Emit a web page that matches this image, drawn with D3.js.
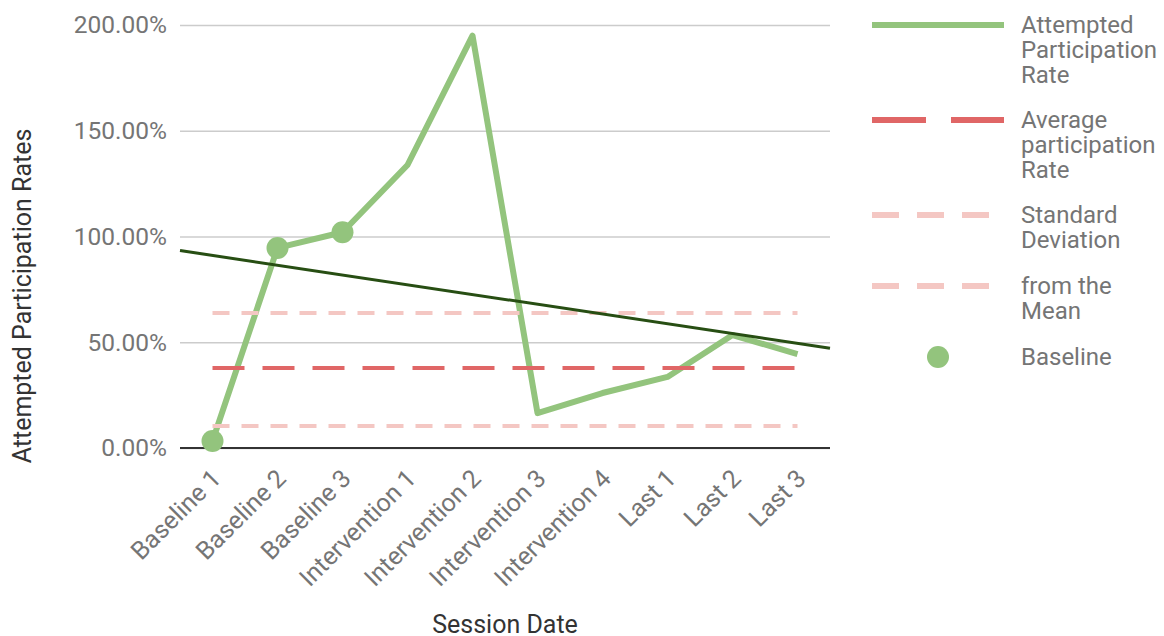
<!DOCTYPE html>
<html>
<head>
<meta charset="utf-8">
<script src="https://cdn.jsdelivr.net/npm/d3@7"></script>
<style>
  html, body { margin: 0; padding: 0; background: #fff; }
  svg { display: block; font-family: Roboto, "Noto Sans", sans-serif; }
</style>
</head>
<body>
<svg id="chart" width="1164" height="636"></svg>
<script>
// Session labels along the x axis
const sessions = ["Baseline 1", "Baseline 2", "Baseline 3", "Intervention 1", "Intervention 2",
                  "Intervention 3", "Intervention 4", "Last 1", "Last 2", "Last 3"];
// Attempted participation rate per session (%)
const participation = [3.3, 94.6, 102, 133.8, 195, 16.5, 26, 33.6, 53.4, 44.4];
// Reference levels (%)
const averageRate = 37.8;
const sdBounds = [10.4, 63.8];
// Y axis ticks (%)
const yTicks = [0, 50, 100, 150, 200];
// Legend entries
const legendItems = [
  { type: "solid",  lines: ["Attempted", "Participation", "Rate"] },
  { type: "avg",    lines: ["Average", "participation", "Rate"] },
  { type: "sd",     lines: ["Standard", "Deviation"] },
  { type: "sd",     lines: ["from the", "Mean"] },
  { type: "dot",    lines: ["Baseline"] }
];

const GREEN = "#93c47d", RED = "#e06666", PINK = "#f4c7c3", TREND = "#274e13";
const svg = d3.select("#chart");

const plot = { left: 180, right: 830, top: 25, bottom: 448 };

const x = d3.scaleBand().domain(sessions).range([plot.left, plot.right]).padding(0);
const cx = s => x(s) + x.bandwidth() / 2;
const y = d3.scaleLinear().domain([0, 200]).range([plot.bottom, plot.top]);

// Gridlines and y tick labels
const yAxis = d3.axisLeft(y).tickValues(yTicks)
  .tickSize(-(plot.right - plot.left))
  .tickPadding(13)
  .tickFormat(d => d3.format(".2f")(d) + "%");
const gy = svg.append("g").attr("transform", `translate(${plot.left},0)`).call(yAxis);
gy.select(".domain").remove();
gy.selectAll(".tick line").attr("stroke", "#cccccc").attr("stroke-width", 1.3);
gy.selectAll(".tick text").attr("fill", "#757575").attr("font-size", 24.5)
  .attr("font-family", "Roboto, sans-serif");

// X axis baseline and rotated labels
const xAxis = d3.axisBottom(x).tickSize(0).tickPadding(0);
const gx = svg.append("g").attr("transform", `translate(0,${plot.bottom})`).call(xAxis);
gx.select(".domain").remove();
gx.selectAll(".tick text")
  .attr("fill", "#757575").attr("font-size", 25)
  .attr("font-family", "Roboto, sans-serif")
  .attr("text-anchor", "end")
  .attr("dy", 0)
  .attr("transform", "translate(10,32) rotate(-45)");
svg.append("line")
  .attr("x1", plot.left).attr("x2", plot.right)
  .attr("y1", y(0)).attr("y2", y(0))
  .attr("stroke", "#333").attr("stroke-width", 2);

// Participation line
const line = d3.line().x((d, i) => cx(sessions[i])).y(d => y(d));
svg.append("path").datum(participation)
  .attr("d", line).attr("fill", "none")
  .attr("stroke", GREEN).attr("stroke-width", 6)
  .attr("stroke-linejoin", "round");

// Baseline session markers
svg.append("g").selectAll("circle")
  .data(participation.map((v, i) => ({ s: sessions[i], v })).filter(d => d.s.startsWith("Baseline")))
  .join("circle")
  .attr("cx", d => cx(d.s)).attr("cy", d => y(d.v)).attr("r", 11)
  .attr("fill", GREEN);

// Average and standard deviation reference lines
const x0 = cx(sessions[0]), x1 = cx(sessions[sessions.length - 1]);
sdBounds.forEach(v => {
  svg.append("line").attr("x1", x0).attr("x2", x1).attr("y1", y(v)).attr("y2", y(v))
    .attr("stroke", PINK).attr("stroke-width", 4).attr("stroke-dasharray", "17 12");
});
svg.append("line").attr("x1", x0).attr("x2", x1).attr("y1", y(averageRate)).attr("y2", y(averageRate))
  .attr("stroke", RED).attr("stroke-width", 4).attr("stroke-dasharray", "32 18");

// Linear trendline across the plot
const n = participation.length;
const meanX = d3.mean(participation, (d, i) => i);
const meanY = d3.mean(participation);
const slope = d3.sum(participation, (d, i) => (i - meanX) * (d - meanY)) /
              d3.sum(participation, (d, i) => (i - meanX) ** 2);
const trendAt = i => meanY + slope * (i - meanX);
const idxToX = i => cx(sessions[0]) + i * x.step();
svg.append("line")
  .attr("x1", idxToX(-0.5)).attr("y1", y(trendAt(-0.5)))
  .attr("x2", idxToX(n - 0.5)).attr("y2", y(trendAt(n - 0.5)))
  .attr("stroke", TREND).attr("stroke-width", 3);

// Axis titles
svg.append("text").attr("x", 505).attr("y", 633)
  .attr("text-anchor", "middle").attr("font-size", 25).attr("fill", "#333")
  .text("Session Date");
svg.append("text")
  .attr("transform", `translate(31,296) rotate(-90)`)
  .attr("text-anchor", "middle").attr("font-size", 25).attr("fill", "#333")
  .text("Attempted Participation Rates");

// Legend
const legend = svg.append("g");
const legendY = [25, 120, 215, 286, 357];
legendItems.forEach((item, k) => {
  const yy = legendY[k];
  const g = legend.append("g");
  if (item.type === "solid") {
    g.append("line").attr("x1", 872).attr("x2", 1004).attr("y1", yy).attr("y2", yy)
      .attr("stroke", GREEN).attr("stroke-width", 6);
  } else if (item.type === "avg") {
    g.append("line").attr("x1", 872).attr("x2", 1004).attr("y1", yy).attr("y2", yy)
      .attr("stroke", RED).attr("stroke-width", 6).attr("stroke-dasharray", "54 25");
  } else if (item.type === "sd") {
    g.append("line").attr("x1", 872).attr("x2", 990).attr("y1", yy).attr("y2", yy)
      .attr("stroke", PINK).attr("stroke-width", 6).attr("stroke-dasharray", "27 18");
  } else {
    g.append("circle").attr("cx", 938).attr("cy", yy).attr("r", 11).attr("fill", GREEN);
  }
  const t = g.append("text").attr("x", 1021).attr("y", yy + 8)
    .attr("font-size", 24).attr("fill", "#757575");
  item.lines.forEach((s, j) => t.append("tspan").attr("x", 1021).attr("dy", j === 0 ? 0 : 25).text(s));
});
</script>
</body>
</html>
